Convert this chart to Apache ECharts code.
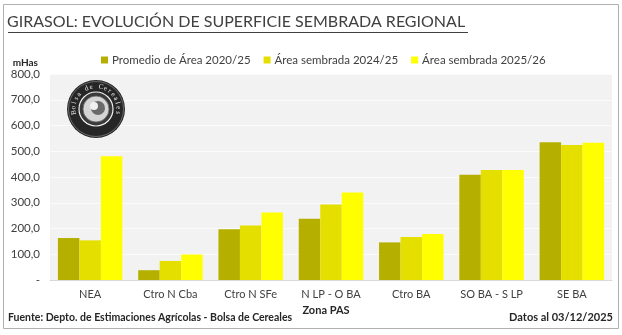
<!DOCTYPE html>
<html><head><meta charset="utf-8">
<script src="https://cdn.jsdelivr.net/npm/echarts@6/dist/echarts.min.js"></script>
<style>html,body{margin:0;padding:0;background:#fff}#c{width:622px;height:335px}</style>
</head><body><div id="c"></div>
<script>
const categories = ['NEA','Ctro N Cba','Ctro N SFe','N LP - O BA','Ctro BA','SO BA - S LP','SE BA'];
const seriesNames = ['Promedio de Área 2020/25','Área sembrada 2024/25','Área sembrada 2025/26'];
const promedio = [163, 38, 197, 238, 146, 409, 535];
const sembrada2425 = [154, 74, 212, 293, 167, 427, 524];
const sembrada2526 = [481, 99, 262, 340, 179, 427, 533];
const yTicks = [0,100,200,300,400,500,600,700,800];
const colors = ['#b5b000','#e5df00','#ffff00'];
const FONT = 'Lato';

const chart = echarts.init(document.getElementById('c'), null, {renderer:'canvas'});

// decorative logo
const logoCx = 96, logoCy = 109;
const logoText = 'Bolsa de Cereales';
const logoEls = [
  {type:'circle', shape:{cx:logoCx, cy:logoCy, r:29}, style:{fill:'#262626'}, z:10},
  {type:'circle', shape:{cx:logoCx, cy:logoCy, r:27.5}, style:{fill:'none', stroke:'#999', lineWidth:0.6}, z:11},
  {type:'circle', shape:{cx:logoCx, cy:logoCy, r:17}, style:{fill:'#3a3a3a', stroke:'#eee', lineWidth:1.2}, z:11},
  {type:'circle', shape:{cx:logoCx, cy:logoCy, r:13}, style:{fill:'#d5d5d5', stroke:'#666', lineWidth:0.8}, z:12},
  {type:'circle', shape:{cx:logoCx+2, cy:logoCy-1, r:7}, style:{fill:'#6a6a6a'}, z:13},
  {type:'circle', shape:{cx:logoCx-2, cy:logoCy-3, r:4}, style:{fill:'#f0f0f0'}, z:14}
];
const n = logoText.length;
for (let i = 0; i < n; i++) {
  const a = Math.PI * (0.95 + 1.1 * i / (n - 1));
  logoEls.push({type:'text', x: logoCx + 22.5*Math.cos(a), y: logoCy + 22.5*Math.sin(a),
    rotation: -(a + Math.PI/2),
    style:{text: logoText[i], fill:'#eee', font:'7px serif', align:'center', verticalAlign:'middle'}, z:14});
}

chart.setOption({
  animation:false,
  color: colors,
  textStyle:{fontFamily: FONT},
  title:{
    text:'GIRASOL: EVOLUCIÓN DE SUPERFICIE SEMBRADA REGIONAL',
    left:7, top:14, padding:0,
    textStyle:{fontFamily:FONT, fontSize:16, fontWeight:'normal', color:'#404040'}
  },
  legend:{
    data: seriesNames, left:96, top:49, itemWidth:7, itemHeight:7, itemGap:13, icon:'rect',
    textStyle:{fontFamily:FONT, fontSize:11.5, color:'#404040', padding:[0,0,0,-1]}
  },
  grid:{left:50, right:10, top:74, bottom:55, show:true, backgroundColor:'#f2f2f2', borderWidth:0},
  xAxis:{
    type:'category', data: categories,
    name:'Zona PAS', nameLocation:'middle', nameGap:17,
    nameTextStyle:{fontFamily:FONT, fontSize:11, fontWeight:'bold', color:'#262626', padding:[0,10,0,0]},
    axisLine:{lineStyle:{color:'#d9d9d9'}}, axisTick:{show:false},
    axisLabel:{interval:0, fontFamily:FONT, fontSize:11, color:'#404040', margin:9}
  },
  yAxis:{
    type:'value', min:0, max:800, interval:100,
    name:'mHas', nameLocation:'end', nameGap:6,
    nameTextStyle:{fontFamily:FONT, fontSize:10, fontWeight:'bold', color:'#262626', align:'right', padding:[0,12,0,0]},
    axisLine:{show:false}, axisTick:{show:false},
    splitLine:{lineStyle:{color:'#fbfbfb', width:1}},
    axisLabel:{fontFamily:FONT, fontSize:11.5, color:'#404040', margin:10,
      formatter: v => yTicks.indexOf(v) === 0 ? '-' : v.toFixed(1).replace('.', ',')}
  },
  series:[
    {name:seriesNames[0], type:'bar', data:promedio, barWidth:21.5, barGap:'0%', itemStyle:{color:colors[0]}},
    {name:seriesNames[1], type:'bar', data:sembrada2425, barWidth:21.5, barGap:'0%', itemStyle:{color:colors[1]}},
    {name:seriesNames[2], type:'bar', data:sembrada2526, barWidth:21.5, barGap:'0%', itemStyle:{color:colors[2]}}
  ],
  graphic:[
    {type:'rect', shape:{x:3.5, y:4.5, width:615, height:324}, style:{fill:'none', stroke:'#b0b0b0', lineWidth:1}, z:0, silent:true},
    {type:'line', shape:{x1:8, y1:32.5, x2:468, y2:32.5}, style:{stroke:'#404040', lineWidth:1}, z:5},
    {type:'text', left:8, top:312, style:{text:'Fuente: Depto. de Estimaciones Agrícolas - Bolsa de Cereales', font:'bold 10.5px Lato', fill:'#262626'}},
    {type:'text', right:9, top:312, style:{text:'Datos al 03/12/2025', font:'bold 11px Lato', fill:'#262626'}},
    {type:'group', children: logoEls}
  ]
});
</script></body></html>
